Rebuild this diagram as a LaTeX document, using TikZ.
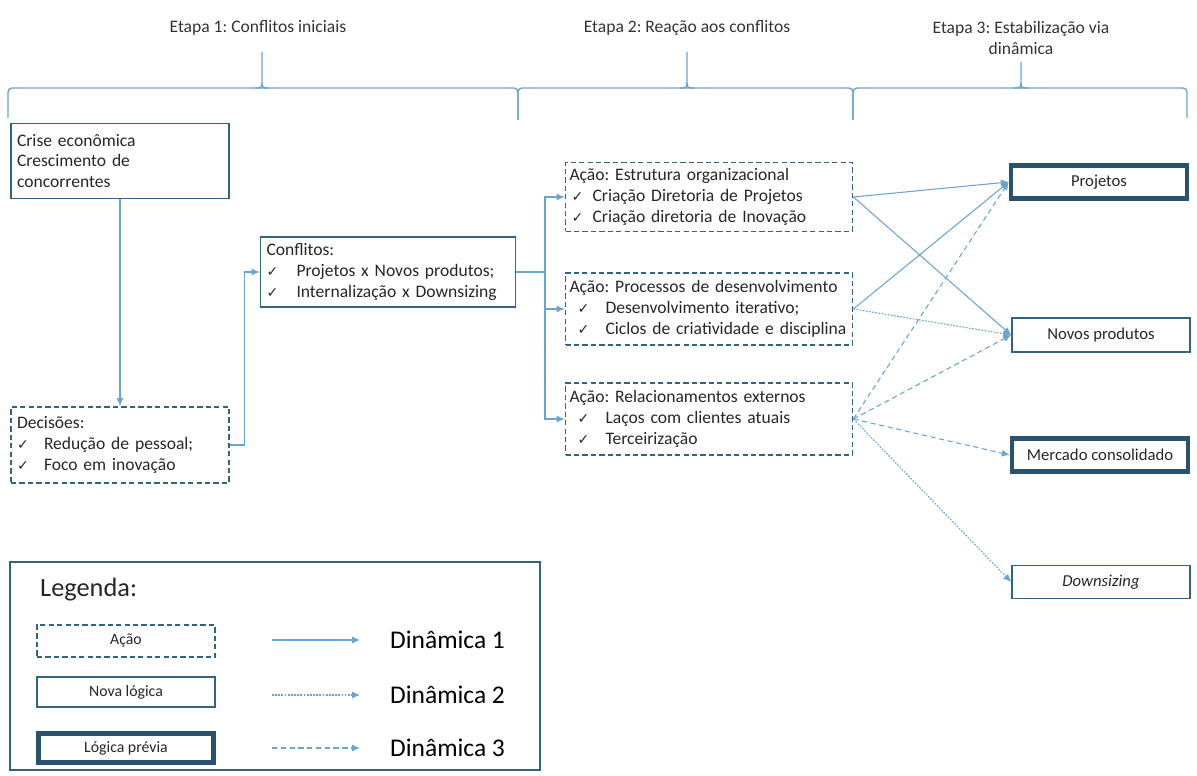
\documentclass[tikz,border=0pt]{standalone}
\usepackage{fontspec}
\setmainfont{Carlito}
\newfontfamily\symbfont{DejaVu Sans}
\usetikzlibrary{arrows.meta}
\definecolor{boxblue}{RGB}{50,100,130}
\definecolor{darkblue}{RGB}{40,82,112}
\definecolor{lineblue}{RGB}{105,165,208}
\newlength\px \setlength\px{0.02cm}
\newcommand\chk{{\symbfont\fontsize{8}{10}\selectfont ✓}}
\newcommand\tick[1]{\makebox[#1\px][l]{\chk}}
\frenchspacing
\hyphenpenalty=10000
\tikzset{
  new box/.style={draw=boxblue,line width=1pt,inner xsep=6\px,text=black!85,
    font=\fontsize{10}{11.8}\selectfont},
  action box/.style={new box,dash pattern=on 3pt off 1.8pt},
  old box/.style={new box,draw=darkblue,line width=2.6pt},
  title/.style={text=black!80,font=\fontsize{10}{12}\selectfont,align=center},
  brace line/.style={draw=lineblue,line width=0.8pt},
  dyn1/.style={draw=lineblue,line width=0.6pt,-{Latex[length=4.5pt,width=4pt]}},
  dyn2/.style={dyn1,dash pattern=on 1pt off 0.8pt},
  dyn3/.style={dyn1,dash pattern=on 3pt off 2pt},
}
\begin{document}
\begin{tikzpicture}[x=0.02cm,y=-0.02cm]
  \useasboundingbox (0,0) rectangle (1197,776);
  %% Etapas
  \node[title] (t1) at (258,28) {Etapa 1: Conflitos iniciais};
  \node[title] (t2) at (687,28) {Etapa 2: Reação aos conflitos};
  \node[title] (t3) at (1021,38) {Etapa 3: Estabilização via\\dinâmica};
  \draw[brace line,rounded corners=4\px] (8,118) -- (8,88) -- (518,88) -- (518,120);
  \draw[brace line,rounded corners=4\px] (518,120) -- (518,88) -- (853,88) -- (853,120);
  \draw[brace line,rounded corners=4\px] (853,120) -- (853,88) -- (1187,88) -- (1187,118);
  \draw[brace line] (255,88) .. controls (262,88) .. (262,80) -- (262,52) -- (262,80) .. controls (262,88) .. (269,88);
  \draw[brace line] (680,88) .. controls (687,88) .. (687,80) -- (687,52) -- (687,80) .. controls (687,88) .. (694,88);
  \draw[brace line] (1014,88) .. controls (1021,88) .. (1021,80) -- (1021,62) -- (1021,80) .. controls (1021,88) .. (1028,88);
  %% Etapa 1
  \node[new box,text width=206\px,minimum height=75\px] (crise) at (120,161)
    {Crise econômica\\Crescimento de\\concorrentes};
  \node[action box,text width=206\px,minimum height=76\px] (dec) at (120,445)
    {Decisões:\\\tick{27}Redução de pessoal;\\\tick{27}Foco em inovação};
  \node[new box,text width=243\px,minimum height=70\px] (conf) at (388,272)
    {Conflitos:\\\tick{30}Projetos x Novos produtos;\\\tick{30}Internalização x Downsizing};
  %% Etapa 2
  \node[action box,inner xsep=4\px,text width=279\px,minimum height=69\px] (a1) at (709,197)
    {Ação: Estrutura organizacional\\\hspace*{2\px}\tick{21}Criação Diretoria de Projetos\\\hspace*{2\px}\tick{21}Criação diretoria de Inovação};
  \node[action box,inner xsep=4\px,text width=279\px,minimum height=72\px] (a2) at (709,309)
    {Ação: Processos de desenvolvimento\\\hspace*{8\px}\tick{28}Desenvolvimento iterativo;\\\hspace*{8\px}\tick{28}Ciclos de criatividade e disciplina};
  \node[action box,inner xsep=4\px,text width=279\px,minimum height=72\px] (a3) at (709,419)
    {Ação: Relacionamentos externos\\\hspace*{8\px}\tick{28}Laços com clientes atuais\\\hspace*{8\px}\tick{28}Terceirização};
  %% Etapa 3
  \node[old box,minimum width=176\px,minimum height=33\px,font=\fontsize{9.5}{11}\selectfont] (proj) at (1099,182) {Projetos};
  \node[new box,minimum width=178\px,minimum height=34\px,font=\fontsize{9.5}{11}\selectfont] (novos) at (1101,335) {Novos produtos};
  \node[old box,minimum width=176\px,minimum height=33\px,font=\fontsize{9.5}{11}\selectfont] (merc) at (1100,455) {Mercado consolidado};
  \node[new box,minimum width=178\px,minimum height=33\px,font=\fontsize{9.5}{11}\itshape] (down) at (1101,582) {Downsizing};
  %% Paths
  \draw[dyn1] (crise.south) -- (dec.north);
  \draw[dyn1] (dec.east) -- ++(15,0) |- (conf.west);
  \coordinate (split) at (545,272);
  \draw[draw=lineblue,line width=0.6pt] (conf.east) -- (split);
  \draw[dyn1] (split) |- (a1.west);
  \draw[dyn1] (split) |- (a2.west);
  \draw[dyn1] (split) |- (a3.west);
  \draw[dyn1] (a1.east) -- (proj.west);
  \draw[dyn1] (a1.east) -- (novos.west);
  \draw[dyn1] (a2.east) -- (proj.west);
  \draw[dyn2] (a2.east) -- (novos.west);
  \draw[dyn3] (a3.east) -- (proj.west);
  \draw[dyn3] (a3.east) -- (novos.west);
  \draw[dyn3] (a3.east) -- (merc.west);
  \draw[dyn2] (a3.east) -- (down.west);
  %% Legenda
  \draw[boxblue,line width=1pt] (10,562) rectangle (540,770);
  \node[anchor=west,font=\fontsize{15}{18}\selectfont,text=black!85] (leg) at (34,590) {Legenda:};
  \node[action box,minimum width=178\px,minimum height=32\px,font=\fontsize{9}{11}\selectfont] (lacao) at (126,641) {Ação};
  \node[new box,minimum width=178\px,minimum height=30\px,font=\fontsize{9}{11}\selectfont] (lnova) at (126,692) {Nova lógica};
  \node[old box,minimum width=175\px,minimum height=29\px,font=\fontsize{9}{11}\selectfont] (lprev) at (126,748) {Lógica prévia};
  \coordinate (s1) at (272,640); \coordinate (e1) at (360,640);
  \coordinate (s2) at (272,695); \coordinate (e2) at (360,695);
  \coordinate (s3) at (272,748); \coordinate (e3) at (360,748);
  \draw[dyn1] (s1) -- (e1);
  \draw[dyn2] (s2) -- (e2);
  \draw[dyn3] (s3) -- (e3);
  \node[anchor=west,font=\fontsize{14.5}{17}\selectfont] (d1) at (384,640) {Dinâmica 1};
  \node[anchor=west,font=\fontsize{14.5}{17}\selectfont] (d2) at (384,695) {Dinâmica 2};
  \node[anchor=west,font=\fontsize{14.5}{17}\selectfont] (d3) at (384,748) {Dinâmica 3};
\end{tikzpicture}
\end{document}
